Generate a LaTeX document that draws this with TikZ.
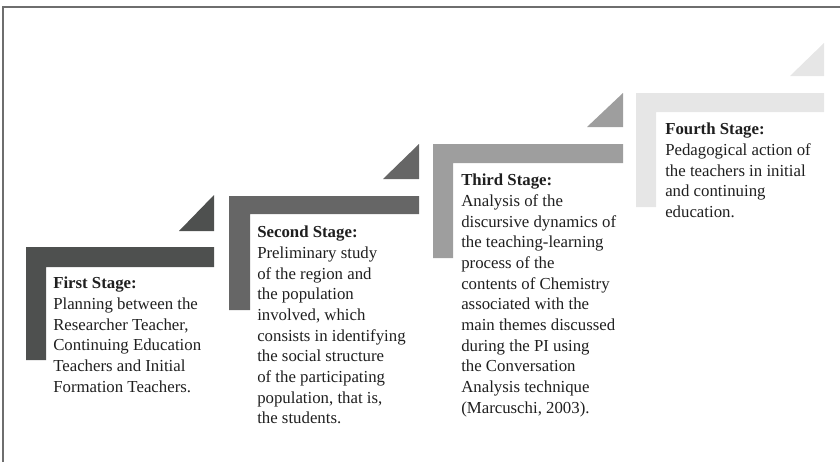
\documentclass[tikz,border=0pt]{standalone}
\usepackage{fontspec}
\setmainfont{Liberation Serif}

\definecolor{stageone}{RGB}{78,80,79}
\definecolor{stagetwo}{RGB}{102,102,102}
\definecolor{stagethree}{RGB}{158,158,158}
\definecolor{stagefour}{RGB}{230,230,230}
\definecolor{framegray}{RGB}{110,110,110}

\begin{document}
\begin{tikzpicture}[x=0.75pt,y=0.75pt,line join=miter,
    stagetext/.style={anchor=north west,inner sep=0pt,align=left,text=black!88,
        font=\fontsize{12.6}{15.5}\selectfont}]
        \useasboundingbox (0,0) rectangle (840,462);

        % Marco
        \draw[framegray,line width=1pt] (3,0) -- (3,455) -- (840,455);

        % Primera etapa
        \fill[stageone] (26,215) -- (214,215) -- (214,195) -- (46,195)
            -- (46,102) -- (26,102) -- cycle;
        \fill[stageone] (214,267) -- (214,231) -- (179,231) -- cycle;
        \node[stagetext] (first) at (53,185)
            {\textbf{First Stage:}\\Planning between the\\Researcher Teacher,\\
             Continuing Education\\Teachers and Initial\\Formation Teachers.};

        % Segunda etapa
        \fill[stagetwo] (229,266) -- (419,266) -- (419,248) -- (250,248)
            -- (250,152) -- (229,152) -- cycle;
        \fill[stagetwo] (419,318) -- (419,283) -- (383,283) -- cycle;
        \node[stagetext] (second) at (257,236)
            {\textbf{Second Stage:}\\Preliminary study\\of the region and\\
             the population\\involved, which\\consists in identifying\\
             the social structure\\of the participating\\population, that is,\\
             the students.};

        % Tercera etapa
        \fill[stagethree] (433,318) -- (623,318) -- (623,299) -- (453,299)
            -- (453,204) -- (433,204) -- cycle;
        \fill[stagethree] (623,369) -- (623,335) -- (587,335) -- cycle;
        \node[stagetext] (third) at (461,288)
            {\textbf{Third Stage:}\\Analysis of the\\discursive dynamics of\\
             the teaching-learning\\process of the\\contents of Chemistry\\
             associated with the\\main themes discussed\\during the PI using\\
             the Conversation\\Analysis technique\\(Marcuschi, 2003).};

        % Cuarta etapa
        \fill[stagefour] (636,369) -- (824,369) -- (824,350) -- (656,350)
            -- (656,255) -- (636,255) -- cycle;
        \fill[stagefour] (824,419) -- (824,386) -- (790,386) -- cycle;
        \node[stagetext] (fourth) at (665,339)
            {\textbf{Fourth Stage:}\\Pedagogical action of\\the teachers in initial\\
             and continuing\\education.};

    \end{tikzpicture}
\end{document}
